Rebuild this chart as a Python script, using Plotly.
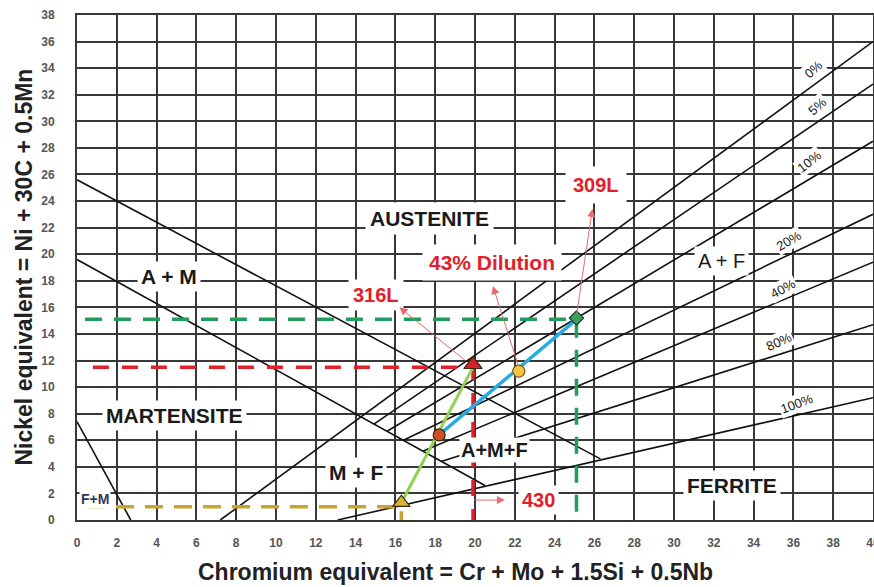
import plotly.graph_objects as go

# Schaeffler constitution diagram axes
x_ticks = list(range(0, 41, 2))
y_ticks = list(range(0, 39, 2))

# Phase boundary lines (Cr_eq, Ni_eq) endpoints
am_upper_x = [0.0, 26.3]
am_upper_y = [25.6, 4.6]
am_lower_x = [0.0, 20.5]
am_lower_y = [19.6, 2.6]
fm_x = [0.0, 2.7]
fm_y = [7.4, 0.0]

# Ferrite iso-lines
ferrite_labels = ["0%", "5%", "10%", "20%", "40%", "80%", "100%"]
ferrite_x0 = [7.2, 14.9, 15.6, 16.4, 17.4, 18.3, 13.1]
ferrite_y0 = [0.0, 7.2, 6.7, 6.0, 5.2, 4.4, 0.0]
ferrite_x1 = [40, 40, 40, 40, 40, 40, 40]
ferrite_y1 = [36.0, 32.8, 28.5, 23.0, 19.4, 14.7, 9.2]
ferrite_lab_x = [37.0, 37.2, 36.8, 35.8, 35.5, 35.3, 36.2]
ferrite_lab_y = [33.9, 31.1, 27.0, 21.0, 17.4, 13.4, 8.8]
ferrite_lab_ang = [-42, -42, -38, -30, -28, -24, -20]

# Alloy points
p309_x, p309_y = 25.1, 15.1      # 309L filler
p316_x, p316_y = 19.9, 11.5      # 316L
p430_x, p430_y = 16.3, 1.0       # 430 ferritic
pmix_x, pmix_y = 18.2, 6.4       # 316L/430 mixture
pdil_x, pdil_y = 22.2, 11.2      # 43 % dilution weld

fig = go.Figure()

def seg(xs, ys, color="#111111", width=1.6, dash=None):
    fig.add_trace(go.Scatter(x=xs, y=ys, mode="lines",
                             line=dict(color=color, width=width, dash=dash),
                             hoverinfo="skip", showlegend=False))

seg(am_upper_x, am_upper_y)
seg(am_lower_x, am_lower_y)
seg(fm_x, fm_y)
for i in range(len(ferrite_labels)):
    seg([ferrite_x0[i], ferrite_x1[i]], [ferrite_y0[i], ferrite_y1[i]])

# Dashed reference lines to the axes
green = "#1f9d5c"
red = "#e3202a"
gold = "#c9a42c"
seg([0.4, p309_x, p309_x], [p309_y, p309_y, 0], green, 3.5, "17px,12px")
seg([0.8, p316_x, p316_x], [p316_y, p316_y, 0], red, 3.5, "16px,13px")
seg([0.5, p430_x, p430_x], [p430_y, p430_y, 0], gold, 3.5, "18px,11px")

# Mixing lines
seg([p430_x, p316_x], [p430_y + 0.3, p316_y], "#92d050", 3)
seg([pmix_x, p309_x], [pmix_y, p309_y], "#29abe2", 3.5)

def marker(x, y, symbol, fill, size, edge="#3a2a10"):
    fig.add_trace(go.Scatter(x=[x], y=[y], mode="markers",
                             marker=dict(symbol=symbol, color=fill, size=size,
                                         line=dict(color=edge, width=1.2)),
                             hoverinfo="skip", showlegend=False))

marker(p316_x, p316_y + 0.2, "triangle-up", "#d8202a", 16)
marker(p430_x, p430_y + 0.3, "triangle-up", "#d6b436", 15)
marker(pmix_x, pmix_y, "circle", "#d0502a", 12)
marker(pdil_x, pdil_y, "circle", "#f5c542", 12, "#7a5a20")
marker(p309_x, p309_y + 0.1, "diamond", "#3aa060", 11, "#14402a")

ann = []
FONT = "Liberation Sans"

def label(text, x, y, size=21, color="#1a1a1a", bold=True, bg="white", angle=0, pad=3):
    t = f"<b>{text}</b>" if bold else text
    ann.append(dict(x=x, y=y, xref="x", yref="y", text=t, showarrow=False,
                    font=dict(family=FONT, size=size, color=color),
                    bgcolor=bg, borderpad=pad, textangle=angle))

label("AUSTENITE", 17.7, 22.7, 21, pad=4)
label("A + M", 4.6, 18.3, 21)
label("A + F", 32.4, 19.5, 20, bold=False)
label("MARTENSITE", 4.9, 7.9, 21)
label("M + F", 14.0, 3.6, 21)
label("A+M+F", 21.0, 5.3, 20, pad=1)
label("FERRITE", 32.9, 2.6, 21)
label("F+M", 0.9, 1.6, 14, color="#2f3a55", pad=1)
for i, t in enumerate(ferrite_labels):
    label(t, ferrite_lab_x[i], ferrite_lab_y[i], 13, bold=False,
          angle=ferrite_lab_ang[i], pad=1)

label("309L", 26.1, 25.2, 20, color=red, pad=7)
label("43% Dilution", 20.85, 19.35, 21, color=red, pad=6)
label("316L", 15.0, 16.9, 20, color=red, pad=4)
label("430", 23.2, 1.5, 20, color=red, pad=3)

def arrow(x0, y0, x1, y1):
    ann.append(dict(x=x1, y=y1, ax=x0, ay=y0, xref="x", yref="y",
                    axref="x", ayref="y", text="", showarrow=True,
                    arrowhead=2, arrowsize=1.6, arrowwidth=1,
                    arrowcolor="#e86a6a"))

arrow(p309_x, p309_y + 0.3, 25.9, 23.4)
arrow(pdil_x, pdil_y + 0.3, 20.9, 17.6)
arrow(p316_x - 0.3, p316_y + 0.4, 16.2, 16.0)
arrow(p316_x, 1.5, 21.5, 1.5)

# Axis titles
ann.append(dict(x=0.475, y=0.0, xref="paper", yref="paper", yshift=-52,
                text="<b>Chromium equivalent = Cr + Mo + 1.5Si + 0.5Nb</b>",
                showarrow=False, yanchor="middle",
                font=dict(family=FONT, size=23, color="#222222")))
ann.append(dict(x=0.0, y=0.5, xref="paper", yref="paper", xshift=-54,
                text="<b>Nickel equivalent = Ni + 30C + 0.5Mn</b>",
                showarrow=False, textangle=-90, xanchor="center",
                font=dict(family=FONT, size=23, color="#222222")))

axis_common = dict(showgrid=True, gridcolor="#383838", gridwidth=2,
                   zeroline=False, showline=True, linecolor="#383838",
                   linewidth=2, mirror=True, ticks="", automargin=False,
                   ticklabeloverflow="allow",
                   tickfont=dict(family="Liberation Sans Narrow, Liberation Sans",
                                 size=12, color="#555555", weight="bold"))

fig.update_layout(
    width=874, height=587,
    margin=dict(l=77, r=1, t=15, b=67),
    paper_bgcolor="white", plot_bgcolor="white",
    xaxis=dict(range=[0, 40], tickvals=x_ticks, ticklabelstandoff=11, **axis_common),
    yaxis=dict(range=[0, 38], tickvals=y_ticks, ticklabelstandoff=18, **axis_common),
    annotations=ann,
)

fig.write_html("out.html")
